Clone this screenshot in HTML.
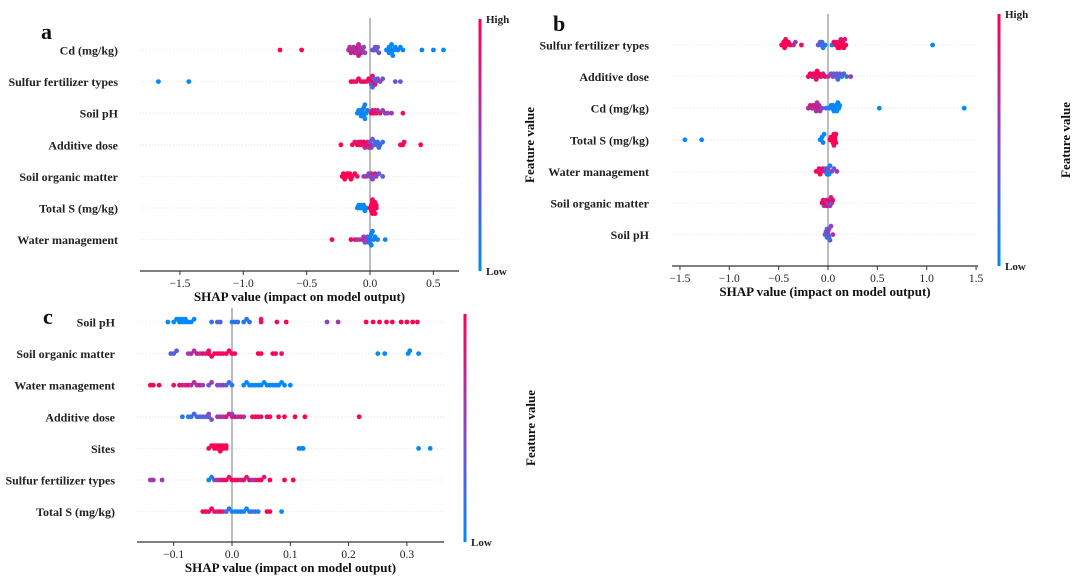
<!DOCTYPE html>
<html><head><meta charset="utf-8"><style>
body{margin:0;background:#fff}
svg{display:block;font-family:"Liberation Serif",serif}
.lab{font-weight:bold;font-size:12px;fill:#222}
.tick{font-size:11.5px;fill:#222}
.xl{font-weight:bold;font-size:13px;fill:#111}
</style></head><body>
<svg id="chart" width="1080" height="584" viewBox="0 0 1080 584">
<defs><linearGradient id="cb" x1="0" y1="1" x2="0" y2="0">
<stop offset="0" stop-color="#008afb"/><stop offset="0.5" stop-color="#8a47c5"/><stop offset="1" stop-color="#ff0052"/></linearGradient></defs>
</svg>
<script>
// ---- Panel a data ----
const featuresA=["Cd (mg/kg)","Sulfur fertilizer types","Soil pH","Additive dose","Soil organic matter","Total S (mg/kg)","Water management"];
const shapA=[
[-0.71,-0.54,-0.17,-0.16,-0.15,-0.14,-0.13,-0.12,-0.11,-0.1,-0.1,-0.09,-0.09,-0.08,-0.08,-0.07,-0.06,-0.05,-0.04,0.02,0.03,0.04,0.05,0.06,0.07,0.13,0.14,0.15,0.15,0.16,0.16,0.17,0.17,0.18,0.19,0.2,0.22,0.24,0.26,0.41,0.5,0.58],
[-1.67,-1.43,-0.15,-0.13,-0.11,-0.09,-0.07,-0.05,-0.03,-0.01,0,0.01,0.01,0.02,0.02,0.03,0.03,0.04,0.05,0.06,0.08,0.1,0.2,0.24],
[-0.1,-0.09,-0.08,-0.07,-0.07,-0.06,-0.06,-0.05,-0.05,-0.04,-0.04,-0.03,-0.02,0.01,0.02,0.03,0.04,0.05,0.06,0.08,0.1,0.12,0.14,0.17,0.26],
[-0.23,-0.14,-0.12,-0.1,-0.09,-0.08,-0.07,-0.06,-0.05,-0.04,-0.03,-0.02,-0.01,0,0,0.01,0.02,0.03,0.04,0.05,0.06,0.07,0.08,0.1,0.24,0.26,0.27,0.4],
[-0.22,-0.21,-0.2,-0.19,-0.18,-0.17,-0.16,-0.15,-0.14,-0.12,-0.1,-0.05,-0.03,-0.01,0,0.01,0.02,0.03,0.04,0.05,0.07,0.1],
[-0.1,-0.09,-0.08,-0.07,-0.06,-0.05,-0.04,-0.03,0,0.01,0.01,0.02,0.02,0.02,0.03,0.03,0.03,0.04,0.04,0.05,0.05],
[-0.3,-0.15,-0.12,-0.1,-0.08,-0.06,-0.05,-0.04,-0.03,-0.02,-0.01,0,0,0,0.01,0.01,0.02,0.03,0.04,0.06,0.12]];
const fvA=[
[1,1,.6,.7,.8,.7,.6,.8,.7,.9,.6,.7,.8,.6,.7,.8,.6,.5,.5,.4,.4,.45,.4,.4,.35,.05,0,.05,0,.05,0,.05,0,0,.05,0,.05,0,0,0,.05,0],
[0,0,1,1,.9,1,.9,1,.9,1,.8,1,.3,.9,.2,1,.3,.9,.4,.5,.5,.4,.4,.35],
[0,.05,0,0,.1,0,.05,0,.1,0,.05,0,.1,1,.9,1,.8,.9,.7,.8,.6,.6,.5,.6,.9],
[1,1,.9,1,.8,1,.9,.8,1,.7,.9,.8,.6,.9,.5,.6,.4,.3,.2,.3,.2,.15,.25,.2,1,1,.9,1],
[1,1,1,1,1,1,1,1,1,1,.9,.5,.6,.4,.5,.7,.6,.4,.8,.5,.4,.3],
[0,0,.05,0,0,.05,0,0,1,1,.95,1,1,.95,1,1,.95,1,1,1,.95],
[1,1,.8,.7,.6,.7,.6,.5,.6,.4,.2,.1,0,.2,.05,0,.1,.05,0,.05,.05]];
const ticksA=[-1.5,-1.0,-0.5,0.0,0.5];
// ---- Panel b data ----
const featuresB=["Sulfur fertilizer types","Additive dose","Cd (mg/kg)","Total S (mg/kg)","Water management","Soil organic matter","Soil pH"];
const shapB=[
[-0.47,-0.46,-0.45,-0.44,-0.43,-0.42,-0.4,-0.38,-0.35,-0.33,-0.27,-0.1,-0.08,-0.07,-0.06,-0.05,-0.03,0.04,0.06,0.08,0.09,0.1,0.11,0.12,0.12,0.13,0.14,0.15,0.16,0.17,0.18,1.06],
[-0.2,-0.18,-0.16,-0.15,-0.14,-0.13,-0.12,-0.11,-0.1,-0.09,-0.07,-0.05,-0.03,0,0.03,0.05,0.06,0.08,0.09,0.1,0.11,0.12,0.14,0.16,0.19,0.23],
[-0.2,-0.18,-0.16,-0.15,-0.14,-0.13,-0.12,-0.11,-0.1,-0.09,-0.08,-0.06,-0.02,0.01,0.03,0.04,0.05,0.06,0.07,0.08,0.09,0.1,0.11,0.12,0.52,1.38],
[-1.45,-1.28,-0.08,-0.07,-0.06,-0.05,-0.04,0.02,0.03,0.04,0.05,0.05,0.06,0.06,0.07,0.07,0.08,0.08],
[-0.12,-0.1,-0.09,-0.08,-0.07,-0.05,-0.03,-0.02,-0.01,0,0,0.01,0.02,0.04,0.06,0.09],
[-0.06,-0.05,-0.04,-0.03,-0.02,-0.01,0,0.01,0.02,0.03,0.04,0.05],
[-0.03,-0.02,-0.01,-0.01,0,0,0.01,0.01,0.02,0.03,0.05]];
const fvB=[
[1,1,1,1,1,1,.95,1,.7,.6,.9,.4,.3,.2,.3,.1,.1,.05,1,1,.9,1,1,.8,1,.9,1,.9,1,.9,1,0],
[1,1,.9,1,.8,1,.9,1,.8,1,.9,.8,1,.7,.5,.4,.3,.5,.4,.2,.3,.4,.1,.3,.2,.6],
[.7,.8,.7,.9,.6,.8,.7,.6,.8,.7,.6,.5,.2,0,.05,0,.05,0,.05,0,0,.05,0,0,0,0],
[0,0,0,.05,0,.05,0,1,1,.95,1,1,1,.9,1,1,1,.95],
[1,1,.9,1,.8,.9,.7,.2,.1,0,.5,0,.1,.5,.4,.6],
[1,.9,.6,1,.8,.9,.5,1,.6,.8,.4,.9],
[.2,.4,.3,.1,.4,.6,.2,.5,.3,.5,.6]];
const ticksB=[-1.5,-1.0,-0.5,0.0,0.5,1.0,1.5];
// ---- Panel c data ----
const featuresC=["Soil pH","Soil organic matter","Water management","Additive dose","Sites","Sulfur fertilizer types","Total S (mg/kg)"];
const shapC=[
[-0.11,-0.1,-0.095,-0.09,-0.09,-0.085,-0.085,-0.08,-0.08,-0.075,-0.07,-0.065,-0.035,-0.025,-0.02,0,0.005,0.01,0.02,0.025,0.03,0.05,0.05,0.077,0.093,0.163,0.182,0.23,0.242,0.253,0.265,0.275,0.29,0.3,0.31,0.318],
[-0.105,-0.1,-0.095,-0.075,-0.07,-0.065,-0.06,-0.055,-0.05,-0.045,-0.04,-0.04,-0.035,-0.03,-0.025,-0.02,-0.015,-0.01,-0.005,0,0.005,0.045,0.05,0.07,0.075,0.085,0.25,0.262,0.302,0.305,0.32],
[-0.14,-0.135,-0.125,-0.1,-0.09,-0.085,-0.08,-0.075,-0.07,-0.065,-0.06,-0.055,-0.05,-0.04,-0.035,-0.025,-0.02,-0.015,-0.01,-0.005,0,0.02,0.025,0.03,0.035,0.04,0.045,0.05,0.055,0.06,0.065,0.07,0.075,0.08,0.085,0.09,0.1],
[-0.085,-0.075,-0.07,-0.065,-0.06,-0.055,-0.05,-0.045,-0.04,-0.04,-0.035,-0.025,-0.02,-0.015,-0.01,-0.005,0,0,0.005,0.01,0.015,0.02,0.035,0.04,0.045,0.05,0.06,0.065,0.08,0.09,0.108,0.125,0.218],
[-0.04,-0.035,-0.03,-0.03,-0.025,-0.025,-0.02,-0.02,-0.02,-0.015,-0.015,-0.01,-0.01,0.115,0.12,0.122,0.32,0.34],
[-0.14,-0.135,-0.12,-0.04,-0.035,-0.03,-0.025,-0.02,-0.015,-0.01,-0.005,0,0.005,0.01,0.015,0.02,0.025,0.03,0.035,0.04,0.045,0.05,0.055,0.065,0.09,0.105],
[-0.05,-0.045,-0.04,-0.035,-0.03,-0.025,-0.02,-0.015,-0.01,-0.005,0,0.005,0.01,0.015,0.02,0.025,0.03,0.035,0.04,0.045,0.06,0.065,0.085]];
const fvC=[
[0,0,0,0,.05,0,0,0,.05,0,0,.05,.2,.3,.3,.1,.15,.2,.1,.15,.2,.9,.85,.9,1,.5,.6,1,1,1,1,.95,1,1,1,.9],
[.3,.3,.35,.6,.7,.65,.8,.7,.9,.8,1,.9,.95,1,.9,1,.9,1,.95,1,.9,1,1,1,.95,.9,0,0,0,.05,0],
[1,1,1,.9,1,.8,.7,.9,.6,.7,.6,.8,.5,.4,.6,.5,.4,.6,.3,.2,.1,0,0,.05,0,0,.05,0,0,.05,0,0,.05,0,0,0,0],
[.1,.2,.15,.3,.2,.3,.25,.35,.4,.5,.4,.6,.7,.6,.8,.9,.7,.5,.9,.6,.8,.7,1,.9,1,.85,.9,1,1,1,1,1,1],
[1,1,1,1,1,1,1,1,1,1,1,1,1,0,0,0,0,0],
[.6,.6,.6,0,.1,.5,.6,.8,.9,1,.8,1,.9,1,.7,1,.8,.9,.6,.7,.9,1,.8,1,1,1],
[1,1,.9,1,.9,.8,1,.7,.3,.2,.1,0,.1,0,.1,0,.2,.1,.3,.1,1,1,0]];
const ticksC=[-0.1,0.0,0.1,0.2,0.3];

const NS="http://www.w3.org/2000/svg";
const svg=document.getElementById('chart');
function mk(tag,attrs,parent,text){const e=document.createElementNS(NS,tag);for(const k in attrs)e.setAttribute(k,attrs[k]);if(text!==undefined)e.textContent=text;(parent||svg).appendChild(e);return e;}
function lerp(a,b,t){return Math.round(a+(b-a)*t);}
function color(f){const s=[[0,138,251],[138,71,197],[255,0,82]];let a,b,t;if(f<.5){a=s[0];b=s[1];t=f/.5;}else{a=s[1];b=s[2];t=(f-.5)/.5;}return `rgb(${lerp(a[0],b[0],t)},${lerp(a[1],b[1],t)},${lerp(a[2],b[2],t)})`;}
function panel(p){
  const g=mk('g',{});
  
  
  const X=v=>p.zero+v*p.ppu;
  const rowY=i=>p.y0+i*p.dy;
  const L=mk('text',{x:p.letterX,y:p.letterY,'font-size':22,'font-weight':'bold',fill:'#111'},g,p.id);
  
  
  p.features.forEach((f,i)=>{
    const gl=mk('line',{x1:p.ax0,x2:p.ax1,y1:rowY(i),y2:rowY(i),stroke:'#ddd','stroke-width':0.8,'stroke-dasharray':'1,2'},g);
    
    
    const t=mk('text',{x:p.labX,y:rowY(i)+4.5,'text-anchor':'end',class:'lab'},g,f);
    
    
  });
  const zl=mk('line',{x1:X(0),x2:X(0),y1:p.zTop,y2:p.axY,stroke:'#999','stroke-width':1.3},g);
  
  
  p.shap.forEach((row,i)=>{
    const bins={};
    const idx=row.map((v,k)=>k).sort((a,b)=>row[a]-row[b]);
    idx.forEach(k=>{
      const px=X(row[k]);const b=Math.round(px/3.5);
      const n=bins[b]||0;bins[b]=n+1;
      const off=(n===0?0:(n%2?-1:1)*Math.ceil(n/2))*2.8;
      const c=mk('circle',{cx:px.toFixed(1),cy:(rowY(i)+off).toFixed(1),r:2.4,fill:color(p.fv[i][k])},g);
      
      
    });
  });
  const ax=mk('line',{x1:p.ax0,x2:p.ax1,y1:p.axY,y2:p.axY,stroke:'#333','stroke-width':1.2},g);
  
  
  p.ticks.forEach(v=>{
    mk('line',{x1:X(v),x2:X(v),y1:p.axY,y2:p.axY+4,stroke:'#333'},g);
    const s=(v<0?'\u2212':'')+Math.abs(v).toFixed(1);
    const t=mk('text',{x:X(v),y:p.axY+16,'text-anchor':'middle',class:'tick'},g,s);
    
    
  });
  const xt=mk('text',{x:(p.ax0+p.ax1)/2,y:p.axY+30,'text-anchor':'middle',class:'xl'},g,'SHAP value (impact on model output)');
  
  
  const cb=mk('rect',{x:p.cbX-1.5,y:p.cbTop,width:3,height:p.axY-p.cbTop,fill:'url(#cb)'},g);
  
  
  if(p.high){const h=mk('text',{x:p.cbX+6,y:p.cbTop+4,'font-size':11,'font-weight':'bold',fill:'#222'},g,'High');
  
  }
  const lo=mk('text',{x:p.cbX+6,y:p.axY+4,'font-size':11,'font-weight':'bold',fill:'#222'},g,'Low');
  
  
  const fy=(p.cbTop+p.axY)/2;
  const ft=mk('text',{x:p.fvX,y:fy,'text-anchor':'middle','font-size':13,'font-weight':'bold',fill:'#111',transform:`rotate(-90 ${p.fvX} ${fy})`},g,'Feature value');
  
  
}
panel({id:'a',features:featuresA,shap:shapA,fv:fvA,ticks:ticksA,zero:370,ppu:126.7,y0:50,dy:31.6,ax0:140,ax1:459,axY:271,zTop:18,labX:118,letterX:41,letterY:39,cbX:480,cbTop:19,high:true,fvX:534});
panel({id:'b',features:featuresB,shap:shapB,fv:fvB,ticks:ticksB,zero:828,ppu:98.7,y0:45,dy:31.6,ax0:672,ax1:978,axY:266,zTop:14,labX:649,letterX:553,letterY:31,cbX:999,cbTop:14,high:true,fvX:1070});
panel({id:'c',features:featuresC,shap:shapC,fv:fvC,ticks:ticksC,zero:232,ppu:583,y0:322,dy:31.6,ax0:137,ax1:444,axY:542,zTop:308,labX:115,letterX:43,letterY:324,cbX:465,cbTop:314,high:false,fvX:535});
</script>
</body></html>
